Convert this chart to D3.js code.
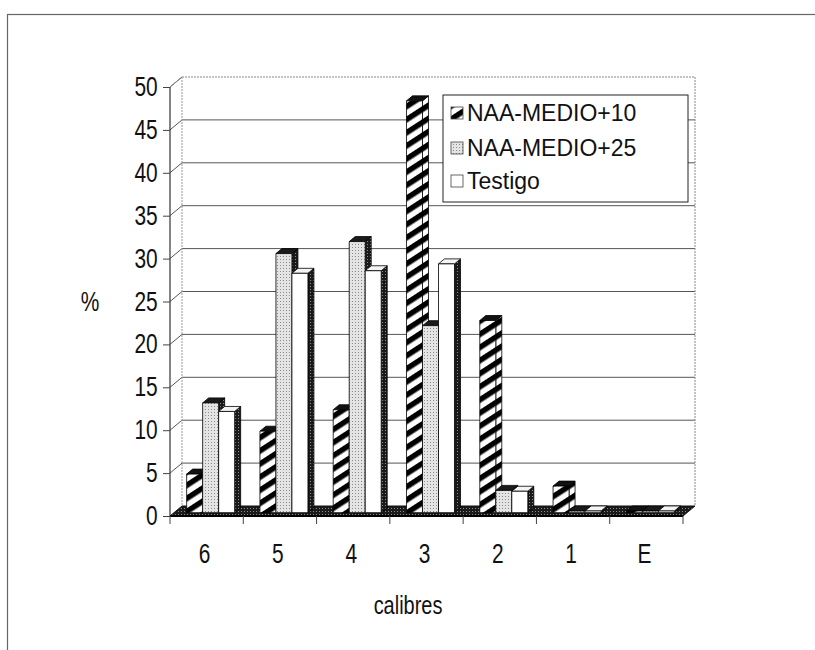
<!DOCTYPE html>
<html>
<head>
<meta charset="utf-8">
<script src="https://cdn.jsdelivr.net/npm/d3@7"></script>
<style>
  html, body { margin: 0; padding: 0; background: #fff; }
  svg { display: block; }
  text { font-family: "Liberation Sans", Arial, sans-serif; fill: #111; }
</style>
</head>
<body>
<svg id="chart" width="815" height="650"></svg>
<script>
// Fruit size distribution (% per calibre) for each treatment
const categories = ["6", "5", "4", "3", "2", "1", "E"];
const seriesNames = ["NAA-MEDIO+10", "NAA-MEDIO+25", "Testigo"];
const naaMedio10 = [4.5, 9.5, 12.0, 48.0, 22.4, 3.1, 0.2];
const naaMedio25 = [12.8, 30.2, 31.6, 21.8, 2.6, 0.2, 0.2];
const testigo    = [11.8, 27.9, 28.2, 29.0, 2.5, 0.2, 0.2];
const yTicks = [0, 5, 10, 15, 20, 25, 30, 35, 40, 45, 50];
const yTitle = "%";
const xTitle = "calibres";

const seriesValues = [naaMedio10, naaMedio25, testigo];
// tall, slightly narrow lettering used on the axes
const textStretch = "scale(0.95,1.22)";

const svg = d3.select("#chart");

// Outer chart frame
svg.append("rect")
  .attr("x", 7.5).attr("y", 14.5).attr("width", 900).attr("height", 700)
  .attr("fill", "none").attr("stroke", "#666").attr("stroke-width", 1.2);

// Patterns for the three fills
const defs = svg.append("defs");
const hatch = defs.append("pattern")
  .attr("id", "hatch").attr("patternUnits", "userSpaceOnUse")
  .attr("width", 11).attr("height", 11)
  .attr("patternTransform", "rotate(57)");
hatch.append("rect").attr("width", 11).attr("height", 11).attr("fill", "#fff");
hatch.append("rect").attr("width", 5.5).attr("height", 11).attr("fill", "#000");

const dots = defs.append("pattern")
  .attr("id", "dots").attr("patternUnits", "userSpaceOnUse")
  .attr("width", 3).attr("height", 3);
dots.append("rect").attr("width", 3).attr("height", 3).attr("fill", "#e4e4e4");
dots.append("rect").attr("x", 1).attr("y", 1).attr("width", 1).attr("height", 1).attr("fill", "#8a8a8a");

const darkDots = defs.append("pattern")
  .attr("id", "darkDots").attr("patternUnits", "userSpaceOnUse")
  .attr("width", 3).attr("height", 3);
darkDots.append("rect").attr("width", 3).attr("height", 3).attr("fill", "#1a1a1a");
darkDots.append("rect").attr("x", 1).attr("y", 1).attr("width", 1).attr("height", 1).attr("fill", "#8a8a8a");

// Scales (front plane) and 3D depth offsets
const x = d3.scaleBand().domain(categories).range([170, 683])
  .paddingInner(0.345).paddingOuter(0.1725);
const xs = d3.scaleBand().domain(seriesNames).range([0, x.bandwidth()]);
const y = d3.scaleLinear().domain([0, 50]).range([516, 87]);
const depth = { dx: 12, dy: -10 };          // floor / walls depth
const barFront = { dx: 4, dy: -3.3 };       // front face of the bars
const barDepth = { dx: 6, dy: -5 };         // thickness of a bar

const x0 = x.range()[0], x1 = x.range()[1];
const yMin = y(0), yMax = y(50);

// Walls
const wall = svg.append("g");
wall.append("polygon")
  .attr("points", [[x0, yMin], [x0 + depth.dx, yMin + depth.dy], [x0 + depth.dx, yMax + depth.dy], [x0, yMax]].join(" "))
  .attr("fill", "#fff");
wall.append("rect")
  .attr("x", x0 + depth.dx).attr("y", yMax + depth.dy)
  .attr("width", x1 - x0).attr("height", yMin - yMax)
  .attr("fill", "#fff");

// Gridlines: back wall and side wall
const grid = svg.append("g").attr("stroke", "#555").attr("stroke-width", 1).attr("fill", "none");
yTicks.filter(v => v > 0).forEach(v => {
  const yy = y(v);
  grid.append("line")
    .attr("x1", x0 + depth.dx).attr("x2", x1 + depth.dx)
    .attr("y1", yy + depth.dy).attr("y2", yy + depth.dy)
    .attr("stroke-dasharray", v === 50 ? "2,1" : null)
    .attr("stroke", v === 50 ? "#888" : "#555");
  grid.append("line")
    .attr("x1", x0).attr("y1", yy)
    .attr("x2", x0 + depth.dx).attr("y2", yy + depth.dy);
});
// Wall edges
grid.append("line")
  .attr("x1", x0 + depth.dx).attr("x2", x0 + depth.dx)
  .attr("y1", yMax + depth.dy).attr("y2", yMin + depth.dy)
  .attr("stroke", "#999").attr("stroke-dasharray", "2,1");
grid.append("line")
  .attr("x1", x1 + depth.dx).attr("x2", x1 + depth.dx)
  .attr("y1", yMax + depth.dy).attr("y2", yMin + depth.dy)
  .attr("stroke", "#888").attr("stroke-dasharray", "2,1");
grid.append("line")
  .attr("x1", x0).attr("y1", yMax)
  .attr("x2", x0 + depth.dx).attr("y2", yMax + depth.dy)
  .attr("stroke", "#888");

// Floor
svg.append("polygon")
  .attr("points", [[x0, yMin], [x1, yMin], [x1 + depth.dx, yMin + depth.dy], [x0 + depth.dx, yMin + depth.dy]].join(" "))
  .attr("fill", "url(#darkDots)").attr("stroke", "#111").attr("stroke-width", 1);

// Bars, painted left to right so later front faces cover earlier side faces
const faceStyles = [
  { front: "url(#hatch)", side: "url(#hatch)", top: "#111" },
  { front: "url(#dots)",  side: "url(#darkDots)", top: "#1a1a1a" },
  { front: "#fff",        side: "url(#darkDots)", top: "#f4f4f4" }
];
const bars = [];
categories.forEach((c, ci) => {
  seriesNames.forEach((s, si) => {
    bars.push({ c, s, si, v: seriesValues[si][ci] });
  });
});
const barG = svg.append("g");
bars.forEach(b => {
  const bx = x(b.c) + xs(b.s) + barFront.dx;
  const bw = xs.bandwidth();
  const yb = y(0) + barFront.dy;
  const yt = y(b.v) + barFront.dy;
  const st = faceStyles[b.si];
  const g = barG.append("g").attr("stroke", "#000").attr("stroke-width", 0.8).attr("stroke-linejoin", "round");
  // side face
  g.append("polygon")
    .attr("points", [[bx + bw, yb], [bx + bw + barDepth.dx, yb + barDepth.dy], [bx + bw + barDepth.dx, yt + barDepth.dy], [bx + bw, yt]].join(" "))
    .attr("fill", st.side);
  // top face
  g.append("polygon")
    .attr("points", [[bx, yt], [bx + bw, yt], [bx + bw + barDepth.dx, yt + barDepth.dy], [bx + barDepth.dx, yt + barDepth.dy]].join(" "))
    .attr("fill", st.top);
  // front face
  g.append("rect")
    .attr("x", bx).attr("y", yt).attr("width", bw).attr("height", Math.max(0, yb - yt))
    .attr("fill", st.front);
});

// Front axes
const axG = svg.append("g").attr("stroke", "#333").attr("stroke-width", 1.2);
axG.append("line").attr("x1", x0).attr("x2", x0).attr("y1", yMax).attr("y2", yMin);
axG.append("line").attr("x1", x0).attr("x2", x1).attr("y1", yMin).attr("y2", yMin).attr("stroke", "#000").attr("stroke-width", 2.2);

// Y axis ticks and labels
const yAxis = d3.axisLeft(y).tickValues(yTicks).tickSize(7).tickPadding(6).tickFormat(d3.format("d"));
const yg = svg.append("g").attr("transform", `translate(${x0},0)`).call(yAxis);
yg.select(".domain").remove();
yg.selectAll(".tick line").attr("stroke", "#444");
yg.selectAll(".tick text")
  .attr("font-size", 22).attr("font-family", "Liberation Sans, Arial, sans-serif").attr("fill", "#111")
  .attr("transform", textStretch);

// X axis ticks at category boundaries and labels
const xBound = d3.range(categories.length + 1).map(i => x0 + i * x.step());
svg.append("g").selectAll("line").data(xBound).join("line")
  .attr("x1", d => d).attr("x2", d => d).attr("y1", yMin).attr("y2", yMin + 8)
  .attr("stroke", "#444");
svg.append("g").selectAll("text").data(categories).join("text")
  .attr("transform", d => `translate(${x(d) + x.bandwidth() / 2 - 2},563) ${textStretch}`)
  .attr("text-anchor", "middle").attr("font-size", 22)
  .text(d => d);

// Axis titles
svg.append("text").attr("transform", `translate(90,311) ${textStretch}`).attr("text-anchor", "middle")
  .attr("font-size", 22).text(yTitle);
svg.append("text").attr("transform", `translate(408,614) ${textStretch}`).attr("text-anchor", "middle")
  .attr("font-size", 21).text(xTitle);

// Legend
const lg = svg.append("g").attr("transform", "translate(443,95)");
lg.append("rect").attr("width", 245).attr("height", 107)
  .attr("fill", "#fff").attr("stroke", "#222").attr("stroke-width", 1);
const swatchFill = ["url(#hatch)", "url(#dots)", "#fff"];
const rowY = [18, 53, 86];
seriesNames.forEach((s, i) => {
  lg.append("rect").attr("x", 8).attr("y", rowY[i] - 6).attr("width", 12).attr("height", 12)
    .attr("fill", swatchFill[i]).attr("stroke", "#444").attr("stroke-width", 0.8);
  lg.append("text").attr("x", 24).attr("y", rowY[i] + 8).attr("font-size", 23).text(s);
});
</script>
</body>
</html>
